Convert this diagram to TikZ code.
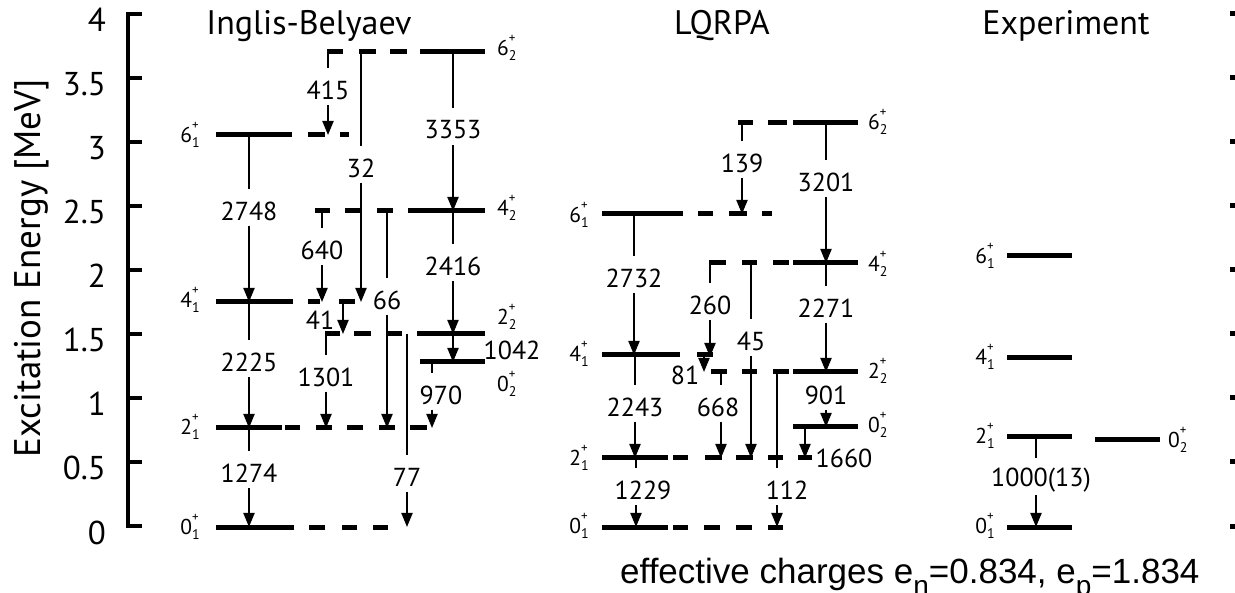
\documentclass[tikz,border=0pt]{standalone}
\usepackage{fontspec}
\setmainfont{PT Sans}
\newfontfamily\arialfont{Liberation Sans}
\usetikzlibrary{arrows.meta}
\newcommand\lvtxt[2]{#1\rlap{\raisebox{13pt}{\fontsize{13}{13}\selectfont +}}\raisebox{-5pt}{\fontsize{14}{14}\selectfont #2}}
\newcommand\mytrans[5]{\draw[trl] (#1,#2) -- (#1,{#3-22}); \node[num] at (#1,#3) {#5}; \draw[tra] (#1,{#3+15}) -- (#1,#4);}
\newcommand\mytransx[6]{\draw[trl] (#1,#2) -- (#1,{#3-22}); \node[num] at (#6,#3) {#5}; \draw[tra] (#1,{#3+15}) -- (#1,#4);}
\newcommand\myseg[3]{\draw[lev] (#2,#1) -- (#3,#1);}
\newcommand\mylvl[5]{\node[lvlab,anchor=base #1] at (#2,{#3+7.5}) {\lvtxt{#4}{#5}};}
\tikzset{
  lev/.style={line width=5pt},
  trl/.style={line width=2pt},
  tra/.style={line width=2pt,-{Triangle[length=14pt,width=11pt]}},
  num/.style={font=\fontsize{26}{26}\selectfont, inner sep=0pt},
  lvlab/.style={font=\fontsize{21.5}{21.5}\selectfont, inner sep=0pt},
  ttl/.style={font=\fontsize{34}{34}\selectfont, inner sep=0pt, anchor=base},
  ticklab/.style={font=\fontsize{33}{33}\selectfont, inner sep=0pt, anchor=base east},
  axis/.style={line width=4.5pt},
}
\begin{document}
\begin{tikzpicture}[x=1pt,y=-1pt]
\useasboundingbox (0,0) rectangle (1235,593);
% axis
\draw[axis,line join=miter] (142,14) -- (128,14) -- (128,526) -- (142,526);
\foreach \v in {78,142,206,270,334,398,462}{\draw[axis] (128,\v) -- (142,\v);}
\foreach \v/\t in {14/4,78/3.5,142/3,206/2.5,270/2,334/1.5,398/1,462/0.5,526/0}{
  \node[ticklab] (tk\v) at (106,{\v+18}) {\t};
  \fill (1230,{\v-2.5}) rectangle (1235,{\v+2.5});}
\node[inner sep=0pt, rotate=90, anchor=base, font=\fontsize{37}{37}\selectfont] (ylab) at (40,268) {Excitation Energy [MeV]};
% titles
\node[ttl] (t1) at (309,35) {Inglis-Belyaev};
\node[ttl] (t2) at (722,35) {LQRPA};
\node[ttl] (t3) at (1066,35) {Experiment};
% ---------------- Inglis-Belyaev levels
\myseg{52}{327}{343}\myseg{52}{359}{376}\myseg{52}{390}{407}\myseg{52}{420}{485}
\myseg{135}{216}{292}\myseg{135}{308}{325}\myseg{135}{340}{349}
\myseg{211}{315}{330}\myseg{211}{345}{362}\myseg{211}{377}{393}\myseg{211}{408}{485}
\myseg{302}{216}{293}\myseg{302}{308}{320}\myseg{302}{339}{355}
\myseg{334}{325}{340}\myseg{334}{354}{371}\myseg{334}{387}{402}\myseg{334}{417}{485}
\myseg{362}{420}{485}
\myseg{428}{216}{282}\myseg{428}{285}{300}\myseg{428}{316}{332}\myseg{428}{347}{363}\myseg{428}{379}{395}\myseg{428}{410}{427}
\myseg{527}{216}{294}\myseg{527}{309}{325}\myseg{527}{342}{357}\myseg{527}{373}{388}
% labels
\mylvl{east}{200}{135}{6}{1}
\mylvl{east}{200}{300}{4}{1}
\mylvl{east}{200}{427}{2}{1}
\mylvl{east}{200}{527}{0}{1}
\mylvl{west}{497}{48}{6}{2}
\mylvl{west}{497}{208}{4}{2}
\mylvl{west}{497}{317}{2}{2}
\mylvl{west}{497}{384}{0}{2}
% transitions
\mytrans{328}{52}{90}{135}{415}
\mytrans{361}{52}{168}{302}{32}
\mytrans{453}{52}{130}{211}{3353}
\mytrans{249}{135}{211}{302}{2748}
\mytrans{322}{211}{250}{302}{640}
\mytrans{387}{211}{300}{428}{66}
\mytrans{453}{211}{266}{334}{2416}
\draw[tra] (343,302) -- (343,334); \node[num] (n41) at (320,320) {41};
\mytrans{326}{334}{377}{428}{1301}
\mytrans{407}{334}{477}{527}{77}
\draw[tra] (453,334) -- (453,362); \node[num] (n1042) at (512,350) {1042};
\mytransx{432}{362}{395}{428}{970}{441}
\mytrans{249}{302}{362}{428}{2225}
\mytrans{249}{428}{473}{527}{1274}
% ---------------- LQRPA levels
\myseg{123}{738}{753}\myseg{123}{768}{787}\myseg{123}{793}{858}
\myseg{214}{602}{683}\myseg{214}{698}{713}\myseg{214}{729}{747}\myseg{214}{762}{772}
\myseg{263}{709}{726}\myseg{263}{742}{757}\myseg{263}{773}{789}\myseg{263}{793}{858}
\myseg{355}{602}{680}\myseg{355}{697}{713}
\myseg{372}{711}{727}\myseg{372}{742}{757}\myseg{372}{773}{789}\myseg{372}{793}{858}
\myseg{427}{793}{858}
\myseg{458}{602}{668}\myseg{458}{673}{688}\myseg{458}{705}{722}\myseg{458}{736}{753}\myseg{458}{768}{783}\myseg{458}{798}{812}
\myseg{527}{602}{668}\myseg{527}{673}{688}\myseg{527}{704}{720}\myseg{527}{736}{752}\myseg{527}{768}{783}
\mylvl{east}{589}{215}{6}{1}
\mylvl{east}{589}{354}{4}{1}
\mylvl{east}{589}{458}{2}{1}
\mylvl{east}{589}{526}{0}{1}
\mylvl{west}{868}{122}{6}{2}
\mylvl{west}{868}{264}{4}{2}
\mylvl{west}{868}{371}{2}{2}
\mylvl{west}{868}{425}{0}{2}
\mytrans{742}{123}{163}{214}{139}
\mytrans{826}{123}{182}{263}{3201}
\mytrans{634}{214}{278}{355}{2732}
\mytrans{710}{263}{305}{357}{260}
\mytrans{751}{263}{341}{458}{45}
\mytrans{826}{263}{308}{372}{2271}
\draw[tra] (704,355) -- (704,372); \node[num] (n81) at (685,375) {81};
\mytrans{635}{355}{407}{458}{2243}
\mytransx{721}{372}{407}{458}{668}{718}
\mytransx{777}{372}{490}{527}{112}{787}
\node[num] (n901) at (826,395) {901}; \draw[tra] (826,410) -- (826,427);
\draw[tra] (805,427) -- (805,458); \node[num] (n1660) at (844,458) {1660};
\mytransx{636}{458}{490}{527}{1229}{643}
% ---------------- Experiment
\myseg{256}{1007}{1072}
\myseg{358}{1007}{1072}
\myseg{437}{1007}{1072}
\myseg{527}{1007}{1072}
\myseg{440}{1095}{1160}
\mylvl{east}{995}{256}{6}{1}
\mylvl{east}{995}{357}{4}{1}
\mylvl{east}{995}{436}{2}{1}
\mylvl{east}{995}{526}{0}{1}
\mylvl{west}{1168}{440}{0}{2}
\mytransx{1036}{437}{480}{527}{1000(13)}{1041}
% bottom text
\node[anchor=base west, inner sep=0pt, font=\arialfont\fontsize{35}{35}\selectfont] (eff) at (620,583) {effective charges e\raisebox{-13pt}{\fontsize{28}{28}\selectfont n}=0.834, e\raisebox{-13pt}{\fontsize{28}{28}\selectfont p}=1.834};
\end{tikzpicture}
\end{document}
